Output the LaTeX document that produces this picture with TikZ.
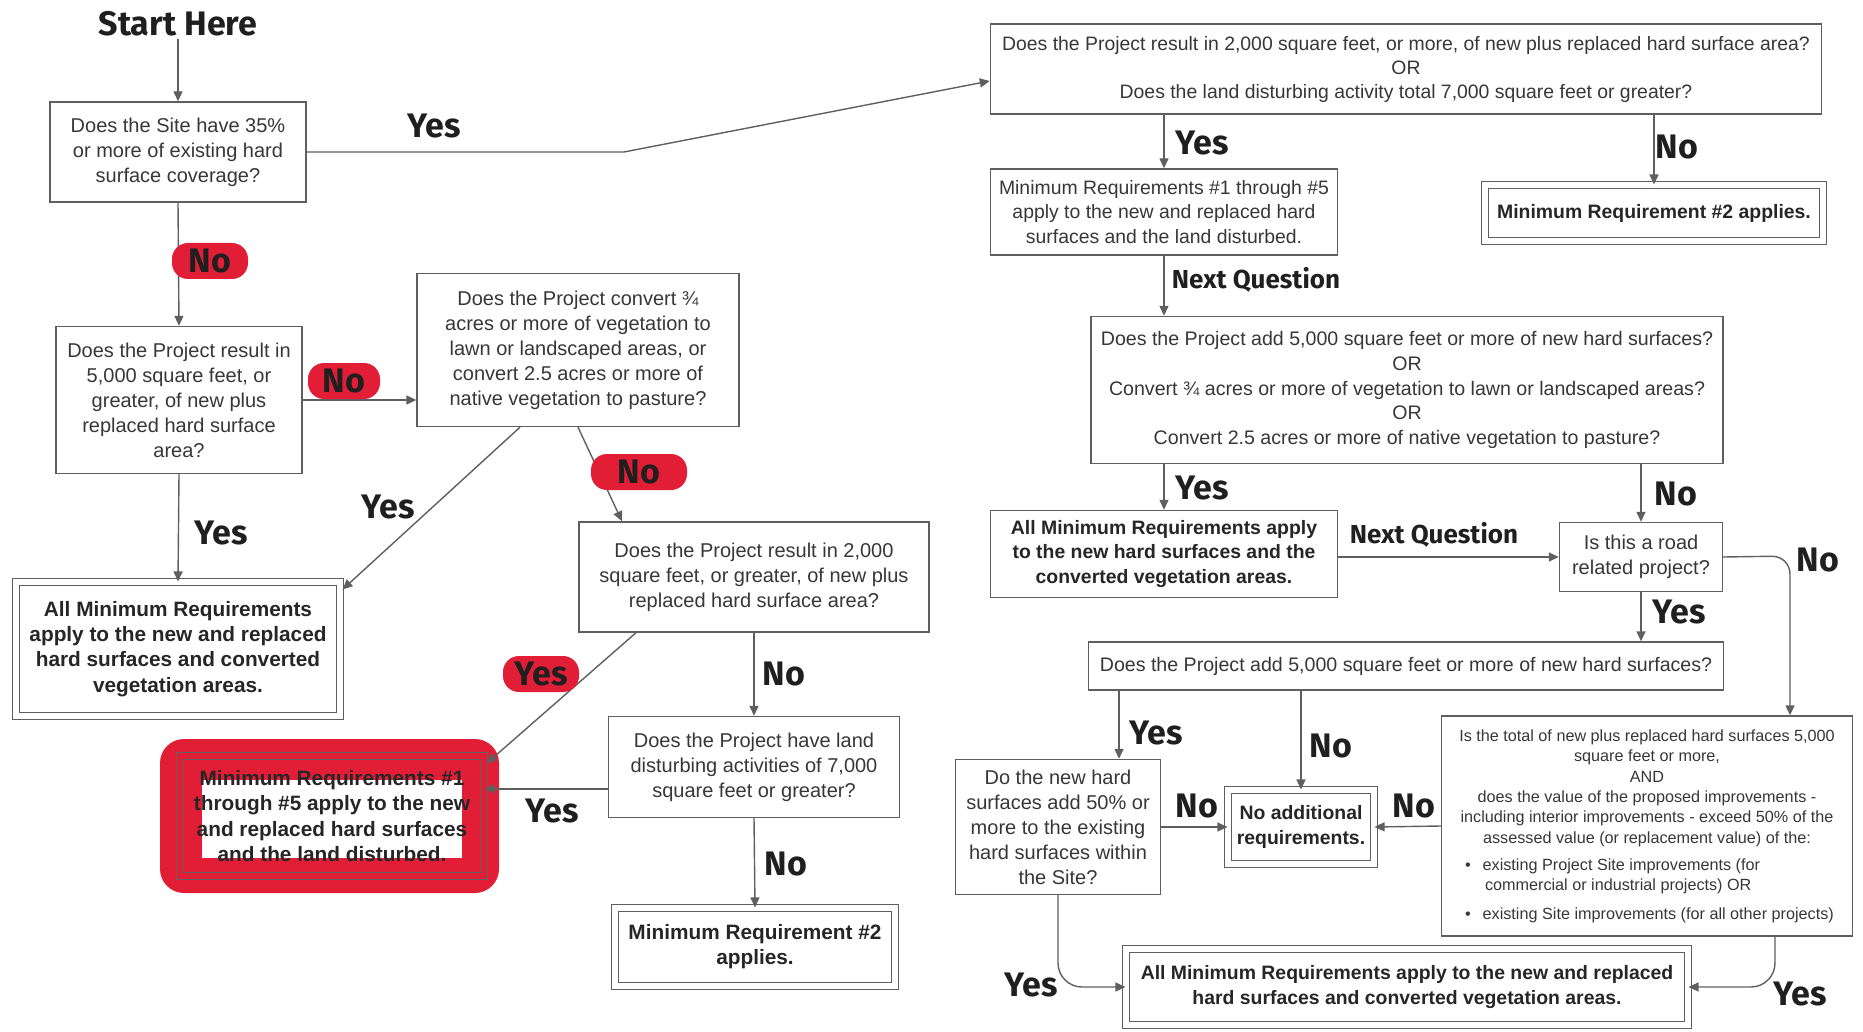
\documentclass[tikz,border=0pt]{standalone}
\usepackage{fontspec}
\setmainfont{Liberation Sans}
\newfontfamily\lblfont{Fira Sans}
\usetikzlibrary{arrows.meta,calc}
\definecolor{boxgray}{RGB}{95,95,95}
\definecolor{txtgray}{RGB}{55,55,55}
\definecolor{hlred}{RGB}{226,30,55}

\begin{document}
\begin{tikzpicture}[x=0.5pt,y=-0.5pt,
  qbox/.style={draw=boxgray, line width=0.7pt, fill=white, align=center, inner sep=2pt,
    text=txtgray, font=\fontsize{10}{12.5}\selectfont},
  abox/.style={qbox, line width=0.55pt, double=white, double distance=3pt, text=black!85,
    font=\fontsize{9.7}{12.3}\selectfont\bfseries},
  bigbold/.style={font=\fontsize{10.4}{12.6}\selectfont\bfseries},
  conn/.style={draw=boxgray, line width=0.7pt, -{Triangle[width=4.5pt,length=5pt]}},
  lbl/.style={font=\lblfont\bfseries\fontsize{17}{17}\selectfont, text=black!88, inner sep=1pt},
  nextq/.style={lbl, font=\lblfont\bfseries\fontsize{13}{13}\selectfont},
  pill/.style={lbl, fill=hlred, rounded corners=8pt, minimum width=38pt, minimum height=18pt}]
\useasboundingbox (0,0) rectangle (1863,1032);

% Markierung um das Ergebnis links unten
\fill[hlred, rounded corners=12pt] (160,739) rectangle (499,893);
\fill[white] (202,780) rectangle (462,858);

% Linke Seite
\node[lbl] (start) at (178,24) {Start Here};
\node[qbox, minimum width=128pt, minimum height=50pt] (Q1) at (178,152)
  {Does the Site have 35\%\\or more of existing hard\\surface coverage?};
\node[qbox, minimum width=123pt, minimum height=73.5pt] (Q2) at (179,400)
  {Does the Project result in\\5,000 square feet, or\\greater, of new plus\\replaced hard surface\\area?};
\node[qbox, minimum width=161pt, minimum height=76.5pt] (Q3) at (578,350)
  {Does the Project convert ¾\\acres or more of vegetation to\\lawn or landscaped areas, or\\convert 2.5 acres or more of\\native vegetation to pasture?};
\node[abox, bigbold, minimum width=162pt, minimum height=67pt] (A1) at (178,649)
  {All Minimum Requirements\\apply to the new and replaced\\hard surfaces and converted\\vegetation areas.};
\node[qbox, minimum width=175pt, minimum height=55pt] (Q4) at (754,577)
  {Does the Project result in 2,000\\square feet, or greater, of new plus\\replaced hard surface area?};
\node[qbox, minimum width=145.5pt, minimum height=50.5pt] (Q5) at (754,767)
  {Does the Project have land\\disturbing activities of 7,000\\square feet or greater?};
\node[abox, bigbold, minimum width=140pt, minimum height=39pt] (R2) at (755,947)
  {Minimum Requirement \#2\\applies.};
\node[abox, bigbold, fill=none, double=hlred, minimum width=152pt, minimum height=60pt] (R1) at (332,816)
  {Minimum Requirements \#1\\through \#5 apply to the new\\and replaced hard surfaces\\and the land disturbed.};

% Rechte Seite
\node[qbox, minimum width=415.5pt, minimum height=45pt, font=\fontsize{9.7}{12}\selectfont] (T1) at (1406,69)
  {Does the Project result in 2,000 square feet, or more, of new plus replaced hard surface area?\\OR\\Does the land disturbing activity total 7,000 square feet or greater?};
\node[qbox, minimum width=173.5pt, minimum height=43pt, font=\fontsize{9.7}{12.3}\selectfont] (T2) at (1164,212)
  {Minimum Requirements \#1 through \#5\\apply to the new and replaced hard\\surfaces and the land disturbed.};
\node[abox, minimum width=169pt, minimum height=28pt] (T3) at (1654,213)
  {Minimum Requirement \#2 applies.};
\node[qbox, minimum width=316pt, minimum height=73.5pt, font=\fontsize{9.8}{12.3}\selectfont] (T4) at (1407,390)
  {Does the Project add 5,000 square feet or more of new hard surfaces?\\OR\\Convert ¾ acres or more of vegetation to lawn or landscaped areas?\\OR\\Convert 2.5 acres or more of native vegetation to pasture?};
\node[qbox, text=black!85, font=\fontsize{9.7}{12.3}\selectfont\bfseries,
  minimum width=173.5pt, minimum height=43.5pt] (T5) at (1164,554)
  {All Minimum Requirements apply\\to the new hard surfaces and the\\converted vegetation areas.};
\node[qbox, minimum width=81.5pt, minimum height=34.5pt] (T6) at (1641,557)
  {Is this a road\\related project?};
\node[qbox, minimum width=317.5pt, minimum height=24pt, font=\fontsize{9.8}{12.3}\selectfont] (T7) at (1406,666)
  {Does the Project add 5,000 square feet or more of new hard surfaces?};
\node[qbox, minimum width=102.5pt, minimum height=67.5pt] (T8) at (1058,827)
  {Do the new hard\\surfaces add 50\% or\\more to the existing\\hard surfaces within\\the Site?};
\node[abox, minimum width=73pt, minimum height=37pt] (T9) at (1301,827)
  {No additional\\requirements.};
\node[qbox, minimum width=205.5pt, minimum height=110pt, font=\fontsize{8.1}{10.2}\selectfont] (T10) at (1647,826)
  {Is the total of new plus replaced hard surfaces 5,000\\square feet or more,\\AND\\does the value of the proposed improvements -\\including interior improvements - exceed 50\% of the\\assessed value (or replacement value) of the:\\[5pt]
  \hspace*{8pt}\parbox{190pt}{\raggedright
  \textbullet\hspace{6pt}existing Project Site improvements (for\\
  \hspace*{10pt}commercial or industrial projects) OR\\[4pt]
  \textbullet\hspace{6pt}existing Site improvements (for all other projects)}};
\node[abox, minimum width=281pt, minimum height=38pt] (T11) at (1407,987)
  {All Minimum Requirements apply to the new and replaced\\hard surfaces and converted vegetation areas.};

% Hilfspunkte
\coordinate (ybend) at (624,152);
\coordinate (q5yes) at ([yshift=-11pt]Q5.west);
\coordinate (rdno) at (1790,556);
\coordinate (t10yes) at (1775,936);
\coordinate (t7yes) at ([xshift=-143.5pt]T7.south);

% Verbindungen links
\draw[conn] (start.south) -- (Q1.north);
\draw[conn] (Q1.east) -- (ybend) -- ([yshift=-6pt]T1.west);
\draw[conn] (Q1.south) -- (Q2.north);
\draw[conn] (Q2.east) -- (Q3.west |- Q2.east);
\draw[conn] (Q2.south) -- (A1.north);
\draw[conn] ([xshift=-29pt]Q3.south) -- ([xshift=1pt,yshift=-4pt]A1.north east);
\draw[conn] (Q3.south) -- ([xshift=-66pt]Q4.north);
\draw[conn] ([xshift=-59pt]Q4.south) -- ([xshift=1pt,yshift=-4pt]R1.north east);
\draw[conn] (Q4.south) -- (Q5.north);
\draw[conn] (q5yes) -- (R1.east |- q5yes);
\draw[conn] (Q5.south) -- (R2.north);

% Verbindungen rechts
\draw[conn] (T1.south -| T2.north) -- (T2.north);
\draw[conn] (T1.south -| T3.north) -- (T3.north);
\draw[conn] (T2.south) -- (T4.north -| T2.south);
\draw[conn] (T4.south -| T5.north) -- (T5.north);
\draw[conn] (T4.south -| T6.north) -- (T6.north);
\draw[conn] (T5.east |- T6.west) -- (T6.west);
\draw[conn] (T6.south) -- (T7.north -| T6.south);
\draw[conn, rounded corners=9pt] (T6.east) -- (rdno) -- (rdno |- T10.north);
\draw[conn] (t7yes) -- (t7yes |- T8.north);
\draw[conn] (T7.south -| T9.north) -- (T9.north);
\draw[conn] (T8.east) -- (T9.west);
\draw[conn] (T10.west) -- (T9.east);
\draw[conn, rounded corners=12pt] (T8.south) |- (T11.west);
\draw[conn, rounded corners=12pt] (t10yes) |- (T11.east);

% Beschriftungen
\node[lbl] (lyes1) at (434,126) {Yes};
\node[pill] (lno1) at (210,261) {No};
\node[pill, minimum width=36pt] (lno2) at (344,381) {No};
\node[lbl] (lyes2) at (221,533) {Yes};
\node[lbl] (lyes3) at (388,507) {Yes};
\node[pill, minimum width=48pt] (lno3) at (639,472) {No};
\node[pill] (lyes4) at (541,674) {Yes};
\node[lbl] (lno4) at (784,674) {No};
\node[lbl] (lyes5) at (552,811) {Yes};
\node[lbl] (lno5) at (786,864) {No};

\node[lbl] (ryes1) at (1202,143) {Yes};
\node[lbl] (rno1) at (1677,147) {No};
\node[nextq] (rnext1) at (1256,280) {Next Question};
\node[lbl] (ryes2) at (1202,488) {Yes};
\node[lbl] (rno2) at (1676,494) {No};
\node[nextq] (rnext2) at (1434,535) {Next Question};
\node[lbl] (rno3) at (1818,560) {No};
\node[lbl] (ryes3) at (1679,612) {Yes};
\node[lbl] (ryes4) at (1156,733) {Yes};
\node[lbl] (rno4) at (1331,746) {No};
\node[lbl] (rno5) at (1197,806) {No};
\node[lbl] (rno6) at (1414,806) {No};
\node[lbl] (ryes5) at (1031,985) {Yes};
\node[lbl] (ryes6) at (1800,994) {Yes};
\end{tikzpicture}
\end{document}
